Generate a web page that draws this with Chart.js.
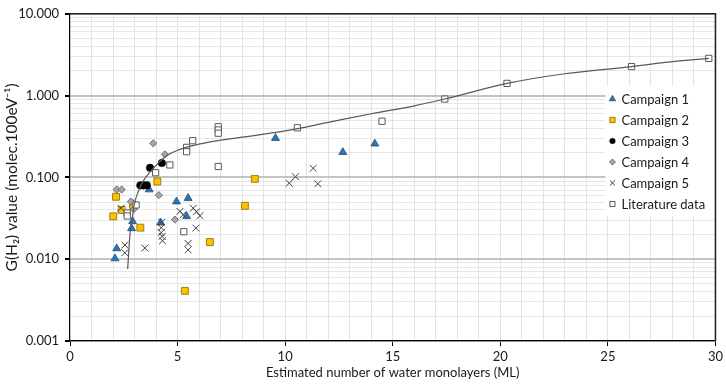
<!DOCTYPE html>
<html><head><meta charset="utf-8">
<script src="https://cdn.jsdelivr.net/npm/chart.js"></script>
<style>html,body{margin:0;padding:0;background:#fff}#wrap{width:726px;height:385px}</style>
</head><body><div id="wrap"><canvas id="c" width="726" height="385"></canvas></div>
<script>
// ---- data ----
const c1X = [2.09, 2.17, 2.86, 2.91, 2.93, 3.68, 4.21, 4.95, 5.49, 5.42, 9.55, 12.68, 14.17];
const c1Y = [0.0102, 0.0135, 0.0238, 0.029, 0.047, 0.071, 0.028, 0.0506, 0.0558, 0.0334, 0.302, 0.203, 0.258];
const c2X = [2.01, 2.14, 2.40, 2.94, 3.27, 4.06, 5.34, 6.50, 8.13, 8.59];
const c2Y = [0.0334, 0.058, 0.040, 0.045, 0.0243, 0.089, 0.0041, 0.0162, 0.0449, 0.096];
const c3X = [3.27, 3.42, 3.57, 3.72, 4.27];
const c3Y = [0.080, 0.080, 0.080, 0.131, 0.150];
const c4X = [2.17, 2.40, 2.83, 2.97, 3.87, 4.13, 4.41, 4.88];
const c4Y = [0.071, 0.071, 0.0506, 0.041, 0.261, 0.0607, 0.191, 0.0305];
const c5X = [2.37, 2.55, 2.55, 3.48, 4.26, 4.24, 4.24, 4.28, 4.30, 5.11, 5.26, 5.73, 5.88, 6.04, 5.85, 5.49, 5.49, 10.19, 10.48, 11.30, 11.52];
const c5Y = [0.042, 0.0149, 0.012, 0.0137, 0.0284, 0.0243, 0.0211, 0.019, 0.0168, 0.0384, 0.035, 0.042, 0.038, 0.034, 0.024, 0.0156, 0.013, 0.085, 0.102, 0.129, 0.0836];
const litX = [2.66, 2.66, 3.07, 3.98, 4.64, 5.29, 5.42, 5.42, 5.70, 6.89, 6.89, 6.89, 6.89, 10.57, 14.5, 17.42, 20.31, 26.1, 29.69];
const litY = [0.0367, 0.0338, 0.046, 0.114, 0.142, 0.0217, 0.233, 0.206, 0.281, 0.416, 0.380, 0.347, 0.136, 0.404, 0.486, 0.908, 1.41, 2.26, 2.85];
const fitX = [2.68, 2.80, 2.90, 3.00, 3.20, 3.40, 3.70, 4.00, 4.50, 5.00, 6.00, 7.00, 8.00, 10.0, 12.0, 14.0, 16.0, 17.42, 20.31, 23.0, 26.1, 28.0, 29.69];
const fitY = [0.0076, 0.022, 0.033, 0.048, 0.070, 0.090, 0.115, 0.140, 0.185, 0.215, 0.255, 0.285, 0.310, 0.370, 0.470, 0.600, 0.750, 0.908, 1.41, 1.85, 2.26, 2.60, 2.85];
const seriesNames = ['Campaign 1', 'Campaign 2', 'Campaign 3', 'Campaign 4', 'Campaign 5', 'Literature data'];
const xTickLabels = [0, 5, 10, 15, 20, 25, 30];
const yDecades = [0.001, 0.01, 0.1, 1, 10];

const FONT = 'Lato, "Open Sans", sans-serif';
const pts = (xs, ys) => xs.map((x, i) => ({x: x, y: ys[i]}));

const styles = [
  {pointStyle: 'triangle', backgroundColor: '#2E75B6', borderColor: '#1F4E79', radius: 4.6, borderWidth: 0.8, lr: 3.6},
  {pointStyle: 'rect', backgroundColor: '#FFC000', borderColor: '#8A6A00', radius: 4.9, borderWidth: 0.8, lr: 3.8},
  {pointStyle: 'circle', backgroundColor: '#000000', borderColor: '#000000', radius: 3.8, borderWidth: 0.5, lr: 2.8},
  {pointStyle: 'rectRot', backgroundColor: '#A6A6A6', borderColor: '#595959', radius: 3.6, borderWidth: 0.8, lr: 3.0},
  {pointStyle: 'crossRot', backgroundColor: '#404040', borderColor: '#404040', radius: 4.8, borderWidth: 1, lr: 3.6},
  {pointStyle: 'rect', backgroundColor: '#FFFFFF', borderColor: '#595959', radius: 4.4, borderWidth: 1, lr: 3.6}
];
const seriesX = [c1X, c2X, c3X, c4X, c5X, litX];
const seriesY = [c1Y, c2Y, c3Y, c4Y, c5Y, litY];

const datasets = seriesNames.map((name, i) => ({
  label: name,
  data: pts(seriesX[i], seriesY[i]),
  pointStyle: styles[i].pointStyle,
  pointRadius: styles[i].radius,
  pointHoverRadius: styles[i].radius,
  pointBackgroundColor: styles[i].backgroundColor,
  pointBorderColor: styles[i].borderColor,
  pointBorderWidth: styles[i].borderWidth,
  backgroundColor: styles[i].backgroundColor,
  borderColor: styles[i].borderColor,
  showLine: false,
  order: 10 - i
}));
datasets.push({
  label: 'fit',
  data: pts(fitX, fitY),
  showLine: true,
  pointRadius: 0,
  borderColor: '#595959',
  borderWidth: 1.2,
  cubicInterpolationMode: 'monotone',
  fill: false,
  order: 1
});

const isDecade = v => Math.abs(Math.log10(v) - Math.round(Math.log10(v))) < 1e-6;

const legendPlugin = {
  id: 'boxLegend',
  afterDatasetsDraw(chart) {
    const ctx = chart.ctx, a = chart.chartArea;
    const x0 = a.right - 110, y0 = 86, h = 130;
    ctx.save();
    ctx.fillStyle = '#ffffff';
    ctx.fillRect(x0, y0, a.right - x0, h);
    ctx.font = '13px ' + FONT;
    ctx.textBaseline = 'middle';
    seriesNames.forEach((name, i) => {
      const y = y0 + 13 + i * 21;
      const s = styles[i];
      ctx.fillStyle = s.backgroundColor;
      ctx.strokeStyle = s.borderColor;
      ctx.lineWidth = s.borderWidth;
      Chart.helpers.drawPoint(ctx, {pointStyle: s.pointStyle, radius: s.lr, rotation: 0, borderWidth: s.borderWidth}, x0 + 7, y);
      ctx.fillStyle = '#1a1a1a';
      ctx.fillText(name, x0 + 16, y + 1);
    });
    ctx.restore();
  },
  afterDraw(chart) {
    const ctx = chart.ctx, a = chart.chartArea;
    ctx.save();
    ctx.strokeStyle = '#262626';
    ctx.lineWidth = 1.6;
    ctx.beginPath();
    ctx.moveTo(a.left, a.top); ctx.lineTo(a.right, a.top); ctx.lineTo(a.right, a.bottom);
    ctx.stroke();
    ctx.restore();
  }
};

new Chart(document.getElementById('c'), {
  type: 'scatter',
  data: {datasets: datasets},
  plugins: [legendPlugin],
  options: {
    responsive: false,
    animation: false,
    events: [],
    layout: {padding: {left: 0, right: 9, top: 6, bottom: 0}},
    plugins: {legend: {display: false}, tooltip: {enabled: false}},
    scales: {
      x: {
        type: 'linear', min: 0, max: 30,
        afterFit(s) { s.height = 44; },
        afterBuildTicks(s) {
          const t = [];
          for (let v = 0; v <= 30; v++) t.push({value: v});
          s.ticks = t;
        },
        ticks: {
          autoSkip: false, maxRotation: 0, padding: 3,
          color: '#1a1a1a', font: {family: FONT, size: 13},
          callback: v => xTickLabels.includes(v) ? String(v) : ''
        },
        grid: {
          color: c => (c.tick && c.tick.value === 0) ? 'rgba(0,0,0,0)' : '#e3e3e3',
          lineWidth: 1,
          tickLength: 5,
          tickColor: c => (c.tick && c.tick.value % 5 === 0) ? '#000' : 'rgba(0,0,0,0)'
        },
        border: {color: '#000', width: 1.2},
        title: {display: true, text: 'Estimated number of water monolayers (ML)', color: '#1a1a1a',
                font: {family: FONT, size: 13}, padding: {top: 0, bottom: 4}}
      },
      y: {
        type: 'logarithmic', min: 0.001, max: 10,
        afterFit(s) { s.width = 70; },
        afterBuildTicks(s) {
          const t = [];
          for (let e = -3; e <= 0; e++) {
            for (let m = 1; m <= 9; m++) t.push({value: +(m * Math.pow(10, e)).toPrecision(6)});
          }
          t.push({value: 10});
          s.ticks = t;
        },
        ticks: {
          autoSkip: false, padding: 6,
          color: '#1a1a1a', font: {family: FONT, size: 13},
          callback: v => isDecade(v) ? v.toFixed(3) : ''
        },
        grid: {
          color: c => c.tick ? (isDecade(c.tick.value) ? '#c4c4c4' : '#e6e6e6') : '#e6e6e6',
          lineWidth: c => (c.tick && isDecade(c.tick.value)) ? 2 : 1,
          tickLength: 5,
          tickColor: c => (c.tick && isDecade(c.tick.value)) ? '#000' : 'rgba(0,0,0,0)'
        },
        border: {color: '#000', width: 1.2},
        title: {display: true, text: 'G(H\u2082) value (molec.100eV\u207B\u00B9)', color: '#1a1a1a',
                font: {family: FONT, size: 15.5}, padding: {top: 3, bottom: 0}}
      }
    }
  }
});
</script>
</body></html>
